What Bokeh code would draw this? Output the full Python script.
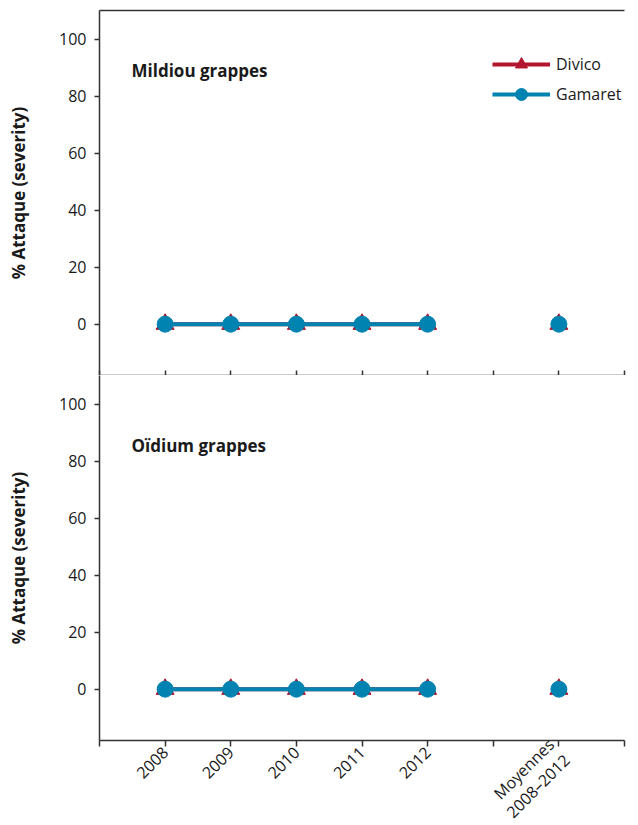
import math
from bokeh.plotting import figure
from bokeh.layouts import column
from bokeh.models import Range1d, FixedTicker, LinearAxis, Label, Legend, LegendItem
from bokeh.embed import file_html
from bokeh.resources import INLINE

# ---- data ----
categories = ["2008", "2009", "2010", "2011", "2012"]
mean_label = "Moyennes\n2008–2012"
y_ticks = [0, 20, 40, 60, 80, 100]
y_min, y_max = -18, 110

mildiou_divico = [0, 0, 0, 0, 0]
mildiou_divico_mean = [0]
mildiou_gamaret = [0, 0, 0, 0, 0]
mildiou_gamaret_mean = [0]

oidium_divico = [0, 0, 0, 0, 0]
oidium_divico_mean = [0]
oidium_gamaret = [0, 0, 0, 0, 0]
oidium_gamaret_mean = [0]

# ---- positions derived from category order ----
year_x = list(range(1, len(categories) + 1))
mean_x = [len(categories) + 2]
x_end = len(categories) + 3
tick_pos = list(range(0, x_end + 1))
x_overrides = {i: "" for i in tick_pos}
for xi, c in zip(year_x, categories):
    x_overrides[xi] = c
x_overrides[mean_x[0]] = mean_label
blank_overrides = {i: "" for i in tick_pos}

RED = "#B3152E"
BLUE = "#0083B1"
AX = "#333333"
TXT = "#1a1a1a"
FONT = "Open Sans"
FRAME_H = 365


def style_axis(ax):
    ax.axis_line_color = AX
    ax.axis_line_width = 1.5
    ax.major_tick_line_color = AX
    ax.major_tick_line_width = 1.5
    ax.minor_tick_line_color = None
    ax.major_label_text_font = FONT
    ax.major_label_text_font_size = "16px"
    ax.major_label_text_color = TXT


def make_panel(title, divico, divico_mean, gamaret, gamaret_mean, bottom, with_legend, title_y):
    p = figure(frame_width=525, frame_height=FRAME_H,
               x_range=Range1d(0, x_end), y_range=Range1d(y_min, y_max),
               output_backend="svg", toolbar_location=None,
               x_axis_location=None, y_axis_location=None,
               min_border_left=99, min_border_right=4,
               min_border_top=0 if bottom else 10,
               min_border_bottom=0)
    p.outline_line_color = None
    p.xgrid.visible = False
    p.ygrid.visible = False
    p.background_fill_color = "white"
    p.border_fill_color = "white"

    yax = LinearAxis(ticker=FixedTicker(ticks=y_ticks))
    style_axis(yax)
    yax.major_tick_in = 0
    yax.major_tick_out = 5
    yax.major_label_standoff = 8
    yax.axis_label = "% Attaque (severity)"
    yax.axis_label_text_font = FONT
    yax.axis_label_text_font_style = "bold"
    yax.axis_label_text_font_size = "17px"
    yax.axis_label_text_color = TXT
    yax.axis_label_standoff = 26
    p.add_layout(yax, "left")

    xax = LinearAxis(ticker=FixedTicker(ticks=tick_pos))
    style_axis(xax)
    if bottom:
        xax.major_tick_in = 0
        xax.major_tick_out = 6
        xax.major_label_standoff = 3
        xax.major_label_overrides = x_overrides
        xax.major_label_orientation = math.pi / 4
        xax.major_label_text_line_height = 1.0
    else:
        xax.major_tick_in = 5
        xax.major_tick_out = 0
        xax.major_label_standoff = 0
        xax.major_label_overrides = blank_overrides
        xax.major_label_text_font_size = "0px"
    p.add_layout(xax, "below")

    if not bottom:
        top = LinearAxis(ticker=FixedTicker(ticks=[]))
        style_axis(top)
        top.major_label_text_font_size = "0px"
        top.major_label_standoff = 0
        top.major_tick_out = 0
        p.add_layout(top, "above")

    # series
    d_line = p.line(year_x, divico, line_color=RED, line_width=4)
    d_pts = p.scatter(year_x, divico, marker="triangle", size=18, color=RED)
    p.scatter(mean_x, divico_mean, marker="triangle", size=18, color=RED)
    g_line = p.line(year_x, gamaret, line_color=BLUE, line_width=4)
    g_pts = p.scatter(year_x, gamaret, marker="circle", size=16, color=BLUE)
    p.scatter(mean_x, gamaret_mean, marker="circle", size=16, color=BLUE)

    p.add_layout(Label(x=32, y=title_y, x_units="screen", y_units="screen",
                       text=title, text_font=FONT, text_font_style="bold",
                       text_font_size="17px", text_color=TXT,
                       text_baseline="alphabetic", text_align="left"))

    if with_legend:
        leg = Legend(items=[LegendItem(label="Divico", renderers=[d_line, d_pts]),
                            LegendItem(label="Gamaret", renderers=[g_line, g_pts])],
                     location=(393, FRAME_H - 99))
        leg.glyph_width = 58
        leg.glyph_height = 30
        leg.label_height = 30
        leg.spacing = 0
        leg.padding = 0
        leg.margin = 0
        leg.label_standoff = 6
        leg.border_line_color = None
        leg.background_fill_alpha = 0
        leg.label_text_font = FONT
        leg.label_text_font_size = "16px"
        leg.label_text_color = TXT
        p.add_layout(leg, "center")
    return p


p1 = make_panel("Mildiou grappes", mildiou_divico, mildiou_divico_mean,
                mildiou_gamaret, mildiou_gamaret_mean, bottom=False, with_legend=True,
                title_y=FRAME_H - 60)
p2 = make_panel("Oïdium grappes", oidium_divico, oidium_divico_mean,
                oidium_gamaret, oidium_gamaret_mean, bottom=True, with_legend=False,
                title_y=FRAME_H - 70)

layout = column(p1, p2, spacing=0)
open("out.html", "w").write(file_html(layout, INLINE))
